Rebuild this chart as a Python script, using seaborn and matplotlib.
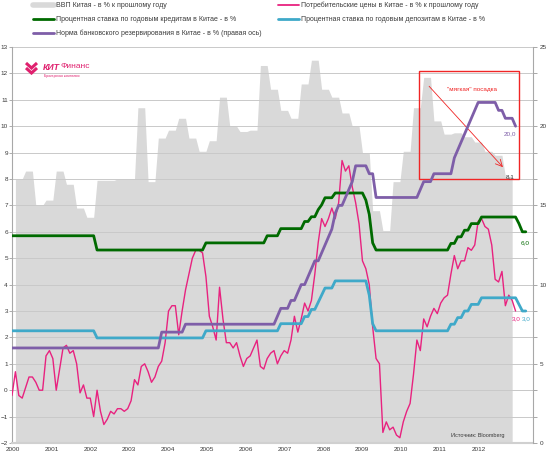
import numpy as np
import pandas as pd
import matplotlib
matplotlib.use("Agg")
import matplotlib.pyplot as plt
import seaborn as sns
from matplotlib.patches import Rectangle
from matplotlib.lines import Line2D

# ---------------- data ----------------
years = list(range(2000, 2013))
year_labels = [str(y) for y in years]

# GDP, y/y %, quarterly 2000Q1..2012Q1
gdp_q = [8.0, 8.3, 7.0, 7.2,
         8.3, 7.8, 6.9, 6.55,
         7.95, 7.95, 8.0, 8.0,
         10.7, 7.9, 9.55, 9.85,
         10.3, 9.55, 9.05, 9.45,
         11.1, 10.0, 9.8, 9.85,
         12.3, 11.4, 10.6, 10.3,
         11.6, 12.5, 11.4, 11.1,
         10.5, 10.0, 9.0, 6.8,
         6.05, 7.9, 9.05, 10.7,
         11.85, 10.2, 9.7, 9.75,
         9.6, 9.4, 9.05, 8.9,
         8.1]

# CPI y/y %, monthly Jan 2000 .. May 2012
cpi_2000 = [-0.2, 0.7, -0.2, -0.3, 0.1, 0.5, 0.5, 0.3, 0.0, 0.0, 1.3, 1.5]
cpi_2001 = [1.2, 0.0, 0.8, 1.6, 1.7, 1.4, 1.5, 1.0, -0.1, 0.2, -0.3, -0.3]
cpi_2002 = [-1.0, 0.0, -0.8, -1.3, -1.1, -0.8, -0.9, -0.7, -0.7, -0.8, -0.7, -0.4]
cpi_2003 = [0.4, 0.2, 0.9, 1.0, 0.7, 0.3, 0.5, 0.9, 1.1, 1.8, 3.0, 3.2]
cpi_2004 = [3.2, 2.1, 3.0, 3.8, 4.4, 5.0, 5.3, 5.3, 5.2, 4.3, 2.8, 2.4]
cpi_2005 = [1.9, 3.9, 2.7, 1.8, 1.8, 1.6, 1.8, 1.3, 0.9, 1.2, 1.3, 1.6]
cpi_2006 = [1.9, 0.9, 0.8, 1.2, 1.4, 1.5, 1.0, 1.3, 1.5, 1.4, 1.9, 2.8]
cpi_2007 = [2.2, 2.7, 3.3, 3.0, 3.4, 4.4, 5.6, 6.5, 6.2, 6.5, 6.9, 6.5]
cpi_2008 = [7.1, 8.7, 8.3, 8.5, 7.7, 7.1, 6.3, 4.9, 4.6, 4.0, 2.4, 1.2]
cpi_2009 = [1.0, -1.6, -1.2, -1.5, -1.4, -1.7, -1.8, -1.2, -0.8, -0.5, 0.6, 1.9]
cpi_2010 = [1.5, 2.7, 2.4, 2.8, 3.1, 2.9, 3.3, 3.5, 3.6, 4.4, 5.1, 4.6]
cpi_2011 = [4.9, 4.9, 5.4, 5.3, 5.5, 6.4, 6.5, 6.2, 6.1, 5.5, 4.2, 4.1]
cpi_2012 = [4.5, 3.2, 3.6, 3.4, 3.0]

# 1-year lending rate, % (month of change, new level)
lending_dates = ['2000-01', '2002-02', '2004-10', '2006-04', '2006-08', '2007-03',
                 '2007-05', '2007-07', '2007-08', '2007-09', '2007-12', '2008-09',
                 '2008-10', '2008-11', '2008-12', '2010-10', '2010-12', '2011-02',
                 '2011-04', '2011-07', '2012-06', '2012-07']
lending_vals = [5.85, 5.31, 5.58, 5.85, 6.12, 6.39, 6.57, 6.84, 7.02, 7.29, 7.47, 7.20,
                6.66, 5.58, 5.31, 5.56, 5.81, 6.06, 6.31, 6.56, 6.31, 6.00]

# 1-year deposit rate, %
deposit_dates = ['2000-01', '2002-02', '2004-10', '2006-08', '2007-03', '2007-05',
                 '2007-07', '2007-08', '2007-09', '2007-12', '2008-10', '2008-11',
                 '2008-12', '2010-10', '2010-12', '2011-02', '2011-04', '2011-07',
                 '2012-06', '2012-07']
deposit_vals = [2.25, 1.98, 2.25, 2.52, 2.79, 3.06, 3.33, 3.60, 3.87, 4.14, 3.60, 2.52,
                2.25, 2.50, 2.75, 3.00, 3.25, 3.50, 3.25, 3.00]

# reserve requirement ratio, % (right axis)
reserve_dates = ['2000-01', '2003-09', '2004-04', '2006-07', '2006-08', '2006-11',
                 '2007-01', '2007-02', '2007-04', '2007-05', '2007-06', '2007-08',
                 '2007-09', '2007-10', '2007-11', '2007-12', '2008-01', '2008-03',
                 '2008-04', '2008-05', '2008-06', '2008-10', '2008-12', '2010-01',
                 '2010-02', '2010-05', '2010-11', '2010-12', '2011-01', '2011-02',
                 '2011-03', '2011-04', '2011-05', '2011-06', '2011-12', '2012-02',
                 '2012-05']
reserve_vals = [6.0, 7.0, 7.5, 8.0, 8.5, 9.0, 9.5, 10.0, 10.5, 11.0, 11.5, 12.0,
                12.5, 13.0, 13.5, 14.5, 15.0, 15.5, 16.0, 16.5, 17.5, 17.0, 15.5, 16.0,
                16.5, 17.0, 18.0, 18.5, 19.0, 19.5, 20.0, 20.5, 21.0, 21.5, 21.0, 20.5,
                20.0]

legend_labels = {
    'gdp': 'ВВП Китая - в % к прошлому году',
    'cpi': 'Потребительские цены в Китае - в % к прошлому году',
    'lend': 'Процентная ставка по годовым кредитам в Китае - в %',
    'dep': 'Процентная ставка по годовым депозитам в Китае - в %',
    'rrr': 'Норма банковского резервирования в Китае - в % (правая ось)',
}

# ---------------- helpers ----------------
def to_years(idx):
    return np.asarray(idx.year + (idx.month - 1) / 12.0, dtype=float)


def monthly_levels(dates, vals, end):
    s = pd.Series(vals, index=pd.to_datetime(dates))
    idx = pd.date_range(dates[0], end, freq='MS')
    s = s.reindex(idx).ffill()
    return pd.DataFrame({'x': to_years(idx), 'y': s.values})


cpi = sum([cpi_2000, cpi_2001, cpi_2002, cpi_2003, cpi_2004, cpi_2005, cpi_2006,
           cpi_2007, cpi_2008, cpi_2009, cpi_2010, cpi_2011, cpi_2012], [])
cpi_idx = pd.date_range('2000-01-01', periods=len(cpi), freq='MS')
cpi_df = pd.DataFrame({'x': to_years(cpi_idx), 'y': cpi})

gdp_m = np.repeat(gdp_q, 3)
gdp_idx = pd.date_range('2000-01-01', periods=len(gdp_m), freq='MS')
gdp_df = pd.DataFrame({'x': to_years(gdp_idx) + 1 / 12.0, 'y': gdp_m})

lend_df = monthly_levels(lending_dates, lending_vals, '2012-08-01')
dep_df = monthly_levels(deposit_dates, deposit_vals, '2012-08-01')
rrr_df = monthly_levels(reserve_dates, reserve_vals, '2012-05-01')

# ---------------- style ----------------
sns.set_theme(style='white')
plt.rcParams['font.family'] = ['Liberation Sans', 'DejaVu Sans']

C_GDP = '#d9d9d9'
C_CPI = '#e8227f'
C_LEND = '#006a00'
C_DEP = '#3fa9c9'
C_RRR = '#7e5ea8'
C_RED = '#f02525'
C_LOGO = '#e0206e'
TXT = '#3a3a3a'
FS = 4.6

fig = plt.figure(figsize=(5.5, 4.58), dpi=100)
ax = fig.add_axes([12 / 550, 1 - 443 / 458, 521 / 550, 396 / 458])
ax.set_xlim(2000, 2000 + 521 / 40.83)
ax.set_ylim(-2, 13)

ax.fill_between(gdp_df['x'], -2, gdp_df['y'], color=C_GDP, lw=0, zorder=0.3)
sns.lineplot(data=cpi_df, x='x', y='y', ax=ax, color=C_CPI, lw=1.0, zorder=3)
sns.lineplot(data=lend_df, x='x', y='y', ax=ax, color=C_LEND, lw=2.0, zorder=4)
sns.lineplot(data=dep_df, x='x', y='y', ax=ax, color=C_DEP, lw=2.0, zorder=4)

ax.set_axisbelow('line')
ax.set_yticks(range(-2, 14))
ax.yaxis.grid(True, color='#c9c9c9', lw=0.7)
ax.xaxis.grid(False)
ax.set_xlabel('')
ax.set_ylabel('')
ax.tick_params(axis='y', left=True, length=2, width=0.6, color='#a0a0a0',
               labelsize=FS, labelcolor=TXT, pad=1)
label_pos = [2000 + k * 0.951 + 0.02 for k in range(len(years))]
ax.set_xticks(label_pos, year_labels)
ax.tick_params(axis='x', bottom=False, length=0, labelsize=FS, labelcolor=TXT, pad=3)
for s in ['top', 'right']:
    ax.spines[s].set_visible(False)
ax.spines['left'].set_color('#a8a8a8')
ax.spines['left'].set_linewidth(0.8)
ax.spines['bottom'].set_color('#d0d0d0')
ax.spines['bottom'].set_linewidth(1.5)

# axis line with year ticks at zero
sec = ax.secondary_xaxis(2 / 15)
sec.set_xticks(years)
sec.tick_params(axis='x', bottom=True, length=3, width=0.6, color='#9a9a9a',
                labelbottom=False, direction='out')
sec.spines['bottom'].set_color('#b0b0b0')
sec.spines['bottom'].set_linewidth(0.7)

# right axis
ax2 = ax.twinx()
ax2.set_ylim(0, 25)
sns.lineplot(data=rrr_df, x='x', y='y', ax=ax2, color=C_RRR, lw=2.0)
ax2.set_ylabel('')
ax2.set_yticks([0, 5, 10, 15, 20, 25])
ax2.set_yticks(np.arange(0, 25.01, 25 / 15), minor=True)
ax2.tick_params(axis='y', which='both', right=True, length=3, width=0.6,
                color='#9a9a9a', labelsize=FS, labelcolor=TXT, pad=2)
ax2.grid(False)
for s in ['top', 'left', 'bottom']:
    ax2.spines[s].set_visible(False)
ax2.spines['right'].set_color('#a8a8a8')
ax2.spines['right'].set_linewidth(0.8)

# "soft landing" box and arrow
ax.add_patch(Rectangle((2009.97, 8.0), 2.45, 4.08, fill=False, ec=C_RED, lw=1.0, zorder=6))
ax.annotate('', xy=(2012.07, 8.37), xytext=(2010.17, 11.59),
            arrowprops=dict(arrowstyle='->', color=C_RED, lw=0.6), zorder=6)
ax.text(2011.27, 11.4, '"мягкая" посадка', color=C_RED, fontsize=FS, ha='center',
        va='center', zorder=6)

# end value labels
ax.text(2012.2, 8.1, '8,1', color=TXT, fontsize=FS, ha='center', va='center', zorder=6)
ax2.text(2012.2, 19.55, '20,0', color=C_RRR, fontsize=FS, ha='center', va='center')
ax.text(2012.57, 5.6, '6,0', color=C_LEND, fontsize=FS, ha='center', va='center', zorder=6)
ax.text(2012.35, 2.7, '3,0', color=C_CPI, fontsize=FS, ha='center', va='center', zorder=6)
ax.text(2012.6, 2.7, '3,0', color=C_DEP, fontsize=FS, ha='center', va='center', zorder=6)

ax.text(0.9457, 0.018, 'Источник: Bloomberg', transform=ax.transAxes,
        fontsize=4.0, color=TXT, ha='right', va='center', zorder=6)

# logo: double chevron + name
for dy in (0, 5):
    fig.add_artist(Line2D([26 / 550, 31.5 / 550, 37 / 550],
                          [1 - (63 + dy) / 458, 1 - (68 + dy) / 458, 1 - (63 + dy) / 458],
                          transform=fig.transFigure, color=C_LOGO, lw=2.2,
                          solid_joinstyle='miter', solid_capstyle='butt'))
t_kit = fig.text(43 / 550, 1 - 67 / 458, 'КИТ', color=C_LOGO, fontsize=6.3,
                 fontweight='bold', style='italic', ha='left', va='center')
fig.canvas.draw()
bb = t_kit.get_window_extent()
fig.text(bb.x1 / 550 + 0.5 / 550, 1 - 67 / 458, 'Финанс', color=C_LOGO, fontsize=6.0,
         ha='left', va='center')
fig.text(44 / 550, 1 - 76 / 458, 'Брокерская компания', color=C_LOGO, fontsize=2.5,
         ha='left', va='center')

# legends
h_gdp = Line2D([], [], color=C_GDP, lw=4)
h_cpi = Line2D([], [], color=C_CPI, lw=1.3)
h_lend = Line2D([], [], color=C_LEND, lw=2)
h_dep = Line2D([], [], color=C_DEP, lw=2)
h_rrr = Line2D([], [], color=C_RRR, lw=2)
common = dict(loc='upper left', frameon=False, fontsize=5.0, handlelength=3.0,
              handletextpad=0.3, labelspacing=1.0, borderpad=0, borderaxespad=0)
leg1 = fig.legend([h_gdp, h_lend, h_rrr],
                  [legend_labels['gdp'], legend_labels['lend'], legend_labels['rrr']],
                  bbox_to_anchor=(33 / 550, 1 - 2 / 458), **common)
leg2 = fig.legend([h_cpi, h_dep], [legend_labels['cpi'], legend_labels['dep']],
                  bbox_to_anchor=(278 / 550, 1 - 2 / 458), **common)
for lg in (leg1, leg2):
    for t in lg.get_texts():
        t.set_color(TXT)

fig.savefig('out.png', dpi=100)
